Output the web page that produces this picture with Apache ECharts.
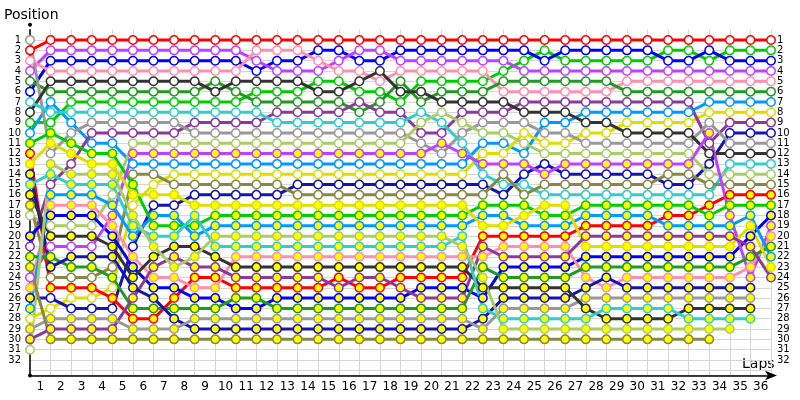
<!DOCTYPE html>
<html>
<head>
<meta charset="utf-8">
<script src="https://cdn.jsdelivr.net/npm/echarts@6/dist/echarts.min.js"></script>
<style>html,body{margin:0;padding:0;background:#fff}#c{width:800px;height:400px}</style>
</head>
<body>
<div id="c"></div>
<script>
// x-axis tick labels (laps) and y-axis tick labels (positions)
const lapLabels = ['1','2','3','4','5','6','7','8','9','10','11','12','13','14','15','16','17','18','19','20','21','22','23','24','25','26','27','28','29','30','31','32','33','34','35','36'];
const posLabels = ['1','2','3','4','5','6','7','8','9','10','11','12','13','14','15','16','17','18','19','20','21','22','23','24','25','26','27','28','29','30','31','32'];

// position of each driver from the start (lap 0) to lap 36
const d01 = [2,1,1,1,1,1,1,1,1,1, 1,1,1,1,1,1,1,1,1,1, 1,1,1,1,1,1,1,1,1,1, 1,1,1,1,1,1,1];
const d02 = [9,9,7,7,7,7,7,7,7,7, 7,6,6,6,5,5,6,6,7,5, 5,5,5,4,3,2,3,3,3,3, 3,2,2,3,2,2,2];
const d03 = [6,3,3,3,3,3,3,3,3,3, 3,4,3,3,2,2,3,3,2,2, 2,2,2,2,2,3,2,2,2,2, 2,3,3,2,3,3,3];
const d04 = [4,2,2,2,2,2,2,2,2,2, 2,3,4,4,4,3,2,2,3,3, 3,3,3,3,4,4,4,4,4,4, 4,4,4,4,4,4,4];
const d05 = [3,4,4,4,4,4,4,4,4,4, 4,2,2,2,3,4,4,5,4,4, 4,4,4,6,6,6,6,6,6,5, 5,5,5,5,5,5,5];
const d06 = [5,6,6,6,6,6,6,6,6,5, 6,7,7,7,7,7,8,7,5,7, 6,6,6,5,5,5,5,5,5,6, 6,6,6,6,6,6,6];
const d07 = [10,7,9,11,11,13,13,13,13,13, 13,13,13,13,13,13,13,13,13,13, 13,13,11,11,12,9,9,8,8,8, 8,8,8,7,7,7,7];
const d08 = [28,27,26,26,25,17,15,14,14,14, 14,14,14,14,14,14,14,14,14,14, 14,14,12,12,10,11,11,10,10,9, 9,9,9,8,8,8,8];
const d09 = [21,15,13,10,10,10,10,10,9,9, 9,9,8,8,8,8,7,8,8,10, 10,8,8,8,7,7,7,7,7,7, 7,7,7,11,9,9,9];
const d10 = [26,26,27,27,27,21,17,17,16,16, 16,16,16,15,15,15,15,15,15,15, 15,15,15,16,14,13,14,14,14,14, 14,15,15,13,10,10,10];
const d11 = [1,12,10,9,9,9,9,9,10,10, 10,10,10,10,10,10,10,10,10,11, 12,10,9,9,9,10,10,11,11,11, 11,11,11,9,11,11,11];
const d12 = [8,5,5,5,5,5,5,5,5,6, 5,5,5,5,6,6,5,4,6,6, 7,7,7,7,8,8,8,9,9,10, 10,10,10,12,12,12,12];
const d13 = [7,8,8,8,8,8,8,8,8,8, 8,8,9,9,9,9,9,9,9,8, 9,11,14,15,15,16,16,16,16,16, 16,16,16,16,13,13,13];
const d14 = [18,19,19,19,16,11,11,11,11,11, 11,11,11,11,11,11,11,11,11,9, 8,9,10,10,11,12,12,12,12,12, 12,12,12,14,14,14,14];
const d15 = [17,24,24,24,23,14,14,15,15,15, 15,15,15,16,16,16,16,16,16,16, 16,16,16,14,16,15,15,15,15,15, 15,14,14,15,15,15,15];
const d16 = [12,25,25,25,26,28,28,26,24,24, 25,25,25,25,25,24,25,25,24,24, 24,24,20,20,20,20,20,19,19,19, 19,18,18,17,16,16,16];
const d17 = [11,10,11,12,12,15,19,19,19,18, 18,18,18,18,18,18,18,18,18,18, 18,18,17,17,17,18,18,17,17,17, 17,17,17,18,17,17,17];
const d18 = [20,18,18,18,20,23,25,25,26,26, 27,27,26,26,26,26,26,26,26,25, 25,25,26,23,23,23,23,22,22,22, 22,22,22,22,22,20,18];
const d19 = [24,21,21,21,18,12,12,12,12,12, 12,12,12,12,12,12,12,12,12,12, 11,12,13,13,13,14,13,13,13,13, 13,13,13,10,18,24,19];
const d20 = [25,17,17,17,19,22,24,24,25,25, 22,22,22,22,22,22,22,22,22,22, 22,22,22,21,21,21,21,24,25,24, 24,24,24,24,24,23,20];
const d21 = [22,22,23,23,24,27,27,27,27,27, 26,26,27,27,27,27,27,27,27,27, 27,27,23,24,24,24,24,23,23,23, 23,23,23,23,23,22,21];
const d22 = [27,16,16,16,17,20,18,18,20,19, 19,19,19,19,19,19,19,19,19,19, 19,19,18,18,19,19,19,18,18,18, 18,19,19,19,19,18,22];
const d23 = [13,11,12,13,13,16,16,16,17,17, 17,17,17,17,17,17,17,17,17,17, 17,17,19,19,18,17,17,21,21,21, 21,21,21,21,21,19,23];
const d24 = [30,29,29,29,29,26,23,22,23,23, 24,24,24,24,24,25,24,24,25,26, 26,26,21,22,22,22,22,20,20,20, 20,20,20,20,20,21,24];
const d25 = [14,23,22,22,22,25,26,28,29,29, 29,29,29,29,29,29,29,29,29,29, 29,29,28,26,26,26,26,25,24,25, 25,25,25,25,25,25,null];
const d26 = [29,28,28,28,28,29,29,29,28,28, 28,28,28,28,28,28,28,28,28,28, 28,28,29,27,27,27,27,26,26,26, 26,26,26,26,26,26,null];
const d27 = [16,20,20,20,21,24,22,21,21,22, 23,23,23,23,23,23,23,23,23,23, 23,23,25,25,25,25,25,27,28,28, 28,28,27,27,27,27,null];
const d28 = [15,14,15,15,15,19,20,20,18,21, 21,21,21,21,21,21,21,21,21,21, 21,20,27,28,28,28,28,28,27,27, 27,27,28,28,28,28,null];
const d29 = [31,13,14,14,14,18,21,23,22,20, 20,20,20,20,20,20,20,20,20,20, 20,21,24,29,29,29,29,29,29,29, 29,29,29,29,29,null,null];
const d30 = [23,30,30,30,30,30,30,30,30,30, 30,30,30,30,30,30,30,30,30,30, 30,30,30,30,30,30,30,30,30,30, 30,30,30,30,null,null,null];

const drivers = [d01,d02,d03,d04,d05,d06,d07,d08,d09,d10,d11,d12,d13,d14,d15,
                 d16,d17,d18,d19,d20,d21,d22,d23,d24,d25,d26,d27,d28,d29,d30];

// lapped status: marker filled from this lap on; start-grid marker state
const lappedFrom = [99,99,99,99,99,99,99,99,99,99,99,99,99,99,99,
                    0,0,0,4,0,0,0,0,0,0,0,0,0,1,0];
const gridFilled = [0,0,0,0,0,0,0,0,0,1,0,0,0,0,1,
                    1,1,1,0,1,1,1,1,1,1,1,1,1,0,1];

const palette = ['#ff0000','#00cc00','#0000ff','#c040ff','#ff8fb0','#229922','#0099ff','#dddd00',
                 '#8b3a9b','#1414b0','#999999','#333333','#33cccc','#aacc66','#888844'];

const FONT = '"DejaVu Sans", Verdana, sans-serif';

const series = drivers.map((arr, d) => {
  const col = palette[d % palette.length];
  return {
    type: 'line',
    xAxisIndex: 0,
    yAxisIndex: 0,
    symbol: 'circle',
    symbolSize: 8.5,
    showAllSymbol: true,
    connectNulls: false,
    silent: true,
    lineStyle: { color: col, width: 3 },
    itemStyle: { color: '#ffffff', borderColor: col, borderWidth: 1.5 },
    data: arr.map((p, lap) => {
      if (p === null) return [lap, null];
      const filled = lap === 0 ? gridFilled[d] === 1 : lap >= lappedFrom[d];
      return { value: [lap, p], itemStyle: { color: filled ? '#ffff00' : '#ffffff' } };
    })
  };
});

const labelFmt = v => (posLabels.indexOf(String(v)) >= 0 ? String(v) : '');

const chart = echarts.init(document.getElementById('c'), null, { renderer: 'canvas' });
chart.setOption({
  animation: false,
  backgroundColor: '#ffffff',
  grid: { left: 30, right: 29, top: 29.7, bottom: 24.5, containLabel: false },
  xAxis: [
    {
      type: 'value', min: 0, max: 36, interval: 1, position: 'bottom',
      axisLabel: { show: false }, axisTick: { show: false },
      splitLine: { show: true, lineStyle: { color: '#d6d6d6', width: 1 } },
      axisLine: { show: true, onZero: false, lineStyle: { color: '#000', width: 1.5 },
                  symbol: ['none', 'arrow'], symbolSize: [7, 12], symbolOffset: [0, 6] }
    },
    {
      type: 'category', data: lapLabels, position: 'bottom', boundaryGap: true, offset: 0,
      axisLine: { show: false }, axisTick: { show: false }, splitLine: { show: false },
      axisLabel: { color: '#000', fontFamily: FONT, fontSize: 12, margin: 5, interval: 0 }
    }
  ],
  yAxis: [
    {
      type: 'value', inverse: true, min: 0, max: 33.5, interval: 1, position: 'left',
      axisTick: { show: false },
      axisLine: { show: true, onZero: false, lineStyle: { color: '#000', width: 1.5 },
                  symbol: ['circle', 'circle'], symbolSize: [4, 4], symbolOffset: [0, 5] },
      axisLabel: { color: '#000', fontFamily: FONT, fontSize: 10, margin: 9, formatter: labelFmt },
      splitLine: { show: true, showMinLine: false, lineStyle: { color: '#d6d6d6', width: 1 } }
    },
    {
      type: 'value', inverse: true, min: 0, max: 33.5, interval: 1, position: 'right',
      axisTick: { show: false }, axisLine: { show: false }, splitLine: { show: false },
      axisLabel: { color: '#000', fontFamily: FONT, fontSize: 10, margin: 6, formatter: labelFmt }
    }
  ],
  graphic: [
    { type: 'text', left: 4, top: 8, style: { text: 'Position', font: '14px ' + FONT, fill: '#000' } },
    { type: 'text', left: 742, top: 357, style: { text: 'Laps', font: '14px ' + FONT, fill: '#000' } }
  ],
  series: series
});
</script>
</body>
</html>
